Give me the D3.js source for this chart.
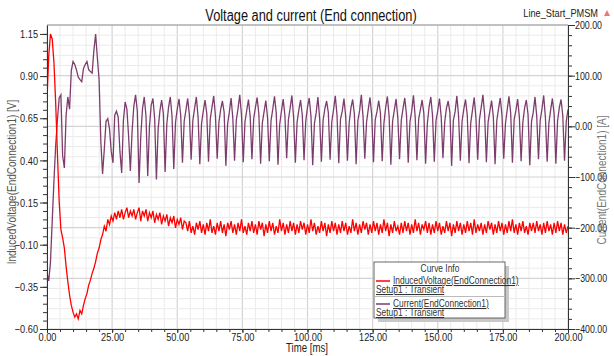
<!DOCTYPE html>
<html>
<head>
<meta charset="utf-8">
<script src="https://cdn.jsdelivr.net/npm/d3@7"></script>
<style>
  body { margin: 0; background: #fff; }
  svg { display: block; font-family: "Liberation Sans", Arial, sans-serif; }
  .axis path, .axis line { stroke: #333; }
  .axis text { fill: #222; font-size: 11.5px; }
  .legend text { fill: #333; font-size: 10.5px; }
</style>
</head>
<body>
<div id="chart"></div>
<script>
// Chart values

var chartTitle = "Voltage and current (End connection)";
var projectName = "Line_Start_PMSM";
var xTicks = [0, 25, 50, 75, 100, 125, 150, 175, 200];
var leftTicks = [-0.60, -0.35, -0.10, 0.15, 0.40, 0.65, 0.90, 1.15];
var rightTicks = [-400, -300, -200, -100, 0, 100, 200];
var seriesNames = ["InducedVoltage(EndConnection1)", "Current(EndConnection1)"];
var setupName = "Setup1 : Transient";

// one sample every 2/3 ms from 0 to 200 ms
var timeStep = 200 / 300;

var voltage = [
  0.76, 1.02, 1.15, 1.12, 0.98, 0.74, 0.44, 0.16, -0.01, -0.06,
  -0.12, -0.23, -0.32, -0.40, -0.46, -0.50, -0.53, -0.51, -0.54, -0.49,
  -0.51, -0.46, -0.42, -0.39, -0.34, -0.31, -0.27, -0.24, -0.20, -0.15,
  -0.12, -0.07, -0.04, 0.01, -0.02, 0.05, 0.02, 0.07, 0.04, 0.09,
  0.05, 0.10, 0.06, 0.11, 0.05, 0.09, 0.12, 0.06, 0.10, 0.07,
  0.11, 0.05, 0.09, 0.12, 0.04, 0.10, 0.07, 0.11, 0.04, 0.09,
  0.06, 0.10, 0.03, 0.08, 0.05, 0.09, 0.02, 0.07, 0.04, 0.08,
  0.01, 0.06, 0.03, 0.07, 0.00, 0.05, 0.02, 0.06, -0.01, 0.04,
  0.03, -0.02, 0.04, -0.03, 0.01, -0.04, 0.03, -0.01, 0.04, -0.03,
  0.02, -0.04, 0.03, -0.02, 0.05, -0.03, 0.01, -0.04, 0.03, -0.02,
  0.04, -0.03, 0.02, -0.05, 0.03, -0.01, 0.04, -0.03, 0.02, -0.04,
  0.03, -0.02, 0.05, -0.03, 0.01, -0.04, 0.03, -0.02, 0.04, -0.03,
  0.02, -0.04, 0.04, -0.01, 0.03, -0.05, 0.02, -0.03, 0.04, -0.02,
  0.03, -0.04, 0.01, -0.03, 0.05, -0.02, 0.03, -0.04, 0.02, -0.03,
  0.04, -0.02, 0.03, -0.04, 0.02, -0.03, 0.04, -0.01, 0.03, -0.04,
  0.02, -0.03, 0.05, -0.02, 0.03, -0.04, 0.01, -0.03, 0.04, -0.02,
  0.03, -0.05, 0.02, -0.03, 0.04, -0.02, 0.03, -0.04, 0.02, -0.03,
  0.04, -0.02, 0.03, -0.04, 0.01, -0.03, 0.05, -0.02, 0.03, -0.04,
  0.02, -0.03, 0.04, -0.01, 0.03, -0.04, 0.02, -0.03, 0.04, -0.02,
  0.03, -0.04, 0.02, -0.03, 0.05, -0.02, 0.03, -0.05, 0.02, -0.03,
  0.04, -0.02, 0.01, -0.04, 0.03, -0.03, 0.04, -0.02, 0.03, -0.04,
  0.02, -0.03, 0.05, -0.02, 0.03, -0.04, 0.02, -0.01, 0.04, -0.03,
  0.03, -0.04, 0.02, -0.03, 0.04, -0.02, 0.03, -0.04, 0.01, -0.03,
  0.04, -0.02, 0.03, -0.05, 0.02, -0.03, 0.04, -0.02, 0.03, -0.04,
  0.02, -0.03, 0.04, -0.02, 0.03, -0.04, 0.05, -0.03, 0.02, -0.02,
  0.03, -0.04, 0.02, -0.03, 0.04, -0.01, 0.03, -0.04, 0.02, -0.03,
  0.04, -0.02, 0.03, -0.04, 0.02, -0.03, 0.04, -0.02, 0.05, -0.03,
  0.02, -0.04, 0.03, -0.02, 0.04, -0.03, 0.01, -0.04, 0.03, -0.02,
  0.03, -0.03, 0.04, -0.02, 0.02, -0.04, 0.03, -0.03, 0.04, -0.02,
  0.02, -0.04, 0.03, -0.03, 0.04, -0.02, 0.03, -0.04, 0.02, -0.03,
  0.01
];

var current = [
  -290, -305, -268, -188, -108, -38, 12, 56, 62, -58,
  -82, 22, 58, 34, 110, 128, 122, 111, 97, 92,
  88, 114, 122, 128, 112, 108, 105, 150, 182, 135,
  92, -30, -94, -45, 10, 15, -5, -50, -72, 22,
  30, 18, -50, -92, 12, 48, 34, -20,
  -88, -10, 40, 62, 30,
  -112, -20, 35, 58, 20,
  -98, 0, 42, 55, 15,
  -105, -5, 30, 52, 25,
  -90, 5, 38, 58, 20,
  -84, 8, 34, 54, 22,
  -72, 10, 32, 55, 22, -66, 12, 36, 58, 18,
  -75, 6, 30, 52, 25, -70, 14, 38, 60, 20,
  -64, 8, 33, 50, 28, -78, 5, 28, 56, 16,
  -68, 12, 35, 62, 22, -71, 9, 31, 53, 19,
  -65, 15, 37, 57, 24, -74, 7, 29, 51, 17,
  -69, 11, 34, 59, 26, -76, 4, 30, 54, 21,
  -63, 13, 36, 61, 18, -72, 8, 32, 52, 23,
  -67, 10, 38, 56, 20, -77, 6, 27, 58, 15,
  -70, 12, 35, 50, 27, -66, 9, 33, 60, 22,
  -73, 14, 30, 55, 19, -68, 7, 36, 53, 24,
  -75, 11, 31, 62, 18, -64, 8, 34, 57, 21,
  -71, 13, 29, 51, 26, -69, 6, 37, 59, 20,
  -76, 10, 32, 54, 17, -65, 12, 35, 56, 23,
  -72, 9, 30, 61, 19, -67, 14, 33, 52, 25,
  -74, 5, 38, 58, 21, -70, 11, 31, 55, 18,
  -63, 8, 36, 50, 27, -78, 12, 29, 60, 20,
  -68, 10, 34, 53, 22, -73, 7, 32, 57, 16,
  -66, 13, 37, 62, 24, -71, 9, 30, 51, 19,
  -75, 11, 35, 56, 21, -64, 6, 33, 59, 26,
  -72, 14, 31, 54, 18, -69, 8, 36, 52, 23,
  -77, 10, 28, 58, 20, -65, 12, 34, 61, 17,
  -70, 7, 32, 55, 25, -74, 11, 37, 53, 21,
  -68, 10, 33
];

// Set up svg and plot box (plotTop, not "top": that name belongs to window)

var w = 614,
    h = 356;
var plotLeft = 47, plotRight = 568, plotTop = 25, plotBottom = 329;

var svg = d3.select("#chart")
    .append("svg")
    .attr("width", w)
    .attr("height", h);

var x = d3.scaleLinear().domain([0, 200]).range([plotLeft, plotRight]);
var yLeft = d3.scaleLinear().domain([-0.6, 1.203]).range([plotBottom, plotTop]);
var yRight = d3.scaleLinear().domain([-400, 200]).range([plotBottom, plotTop]);

// minor tick positions
var xMinor = d3.range(0, 201, 5);
var leftMinor = d3.range(-0.6, 1.2, 0.05);
var rightMinor = d3.range(-400, 201, 20);

// Grid lines (follow the right axis horizontally)

var grid = svg.append("g");
grid.selectAll(".vgrid")
    .data(xMinor)
    .enter().append("line")
    .attr("x1", function(d) {return x(d);})
    .attr("x2", function(d) {return x(d);})
    .attr("y1", plotTop).attr("y2", plotBottom)
    .attr("stroke", function(d) {return d % 25 === 0 ? "#d4d4d4" : "#ebebeb";})
    .attr("stroke-width", function(d) {return d % 25 === 0 ? 1.2 : 1;});
grid.selectAll(".hgrid")
    .data(rightMinor)
    .enter().append("line")
    .attr("x1", plotLeft).attr("x2", plotRight)
    .attr("y1", function(d) {return yRight(d);})
    .attr("y2", function(d) {return yRight(d);})
    .attr("stroke", function(d) {return d % 100 === 0 ? "#d4d4d4" : "#ebebeb";})
    .attr("stroke-width", function(d) {return d % 100 === 0 ? 1.2 : 1;});

// top border
svg.append("line")
    .attr("x1", plotLeft).attr("x2", plotRight)
    .attr("y1", plotTop).attr("y2", plotTop)
    .attr("stroke", "#999");

// Curves

svg.append("clipPath").attr("id", "clip")
    .append("rect")
    .attr("x", plotLeft).attr("y", plotTop)
    .attr("width", plotRight - plotLeft).attr("height", plotBottom - plotTop);

var currentLine = d3.line()
    .x(function(d, i) {return x(i * timeStep);})
    .y(function(d) {return yRight(d);});

var voltageLine = d3.line()
    .x(function(d, i) {return x(i * timeStep);})
    .y(function(d) {return yLeft(d);});

svg.append("path")
    .datum(current)
    .attr("clip-path", "url(#clip)")
    .attr("d", currentLine)
    .attr("fill", "none")
    .attr("stroke", "#7d3d6c")
    .attr("stroke-width", 1.3);

svg.append("path")
    .datum(voltage)
    .attr("clip-path", "url(#clip)")
    .attr("d", voltageLine)
    .attr("fill", "none")
    .attr("stroke", "#ff0000")
    .attr("stroke-width", 1.3);

// Axes

var fmt = d3.format(".2f");

svg.append("g").attr("class", "axis")
    .attr("transform", "translate(" + plotLeft + ",0)")
    .call(d3.axisLeft(yLeft).tickValues(leftMinor).tickSize(4).tickFormat(""))
    .select(".domain").remove();
svg.append("g").attr("class", "axis")
    .attr("transform", "translate(" + plotLeft + ",0)")
    .call(d3.axisLeft(yLeft).tickValues(leftTicks).tickSize(7).tickSizeOuter(0).tickPadding(2).tickFormat(fmt));

svg.append("g").attr("class", "axis")
    .attr("transform", "translate(" + plotRight + ",0)")
    .call(d3.axisRight(yRight).tickValues(rightMinor).tickSize(4).tickFormat(""))
    .select(".domain").remove();
var rightAxis = svg.append("g").attr("class", "axis")
    .attr("transform", "translate(" + plotRight + ",0)")
    .call(d3.axisRight(yRight).tickValues(rightTicks).tickSize(7).tickSizeOuter(0).tickPadding(0).tickFormat(fmt));
rightAxis.selectAll("text").style("font-size", "11px");

svg.append("g").attr("class", "axis")
    .attr("transform", "translate(0," + plotBottom + ")")
    .call(d3.axisBottom(x).tickValues(xMinor).tickSize(3).tickFormat(""))
    .select(".domain").remove();
svg.append("g").attr("class", "axis")
    .attr("transform", "translate(0," + plotBottom + ")")
    .call(d3.axisBottom(x).tickValues(xTicks).tickSize(4).tickSizeOuter(0).tickPadding(0).tickFormat(fmt));

// Titles and axis labels

svg.append("text")
    .attr("x", 311).attr("y", 21)
    .attr("text-anchor", "middle")
    .attr("font-size", "16px")
    .attr("fill", "#111")
    .text(chartTitle);

svg.append("text")
    .attr("x", 598).attr("y", 17)
    .attr("text-anchor", "end")
    .attr("font-size", "11.5px")
    .attr("fill", "#222")
    .text(projectName);

svg.append("path")
    .attr("d", "M607,10 L610,16 L604,16 Z")
    .attr("fill", "#e87878");

svg.append("text")
    .attr("transform", "translate(16,182) rotate(-90)")
    .attr("text-anchor", "middle")
    .attr("font-size", "12.5px")
    .attr("fill", "#555")
    .text(seriesNames[0] + " [V]");

svg.append("text")
    .attr("transform", "translate(606,180) rotate(-90)")
    .attr("text-anchor", "middle")
    .attr("font-size", "12.5px")
    .attr("fill", "#777")
    .text(seriesNames[1] + " [A]");

svg.append("text")
    .attr("x", 307).attr("y", 352)
    .attr("text-anchor", "middle")
    .attr("font-size", "12px")
    .attr("fill", "#222")
    .text("Time [ms]");

// Legend box

var legend = svg.append("g").attr("class", "legend");
legend.append("rect")
    .attr("x", 378).attr("y", 266)
    .attr("width", 131).attr("height", 56)
    .attr("fill", "#c8c8c8");
legend.append("rect")
    .attr("x", 374).attr("y", 262)
    .attr("width", 131).attr("height", 56)
    .attr("fill", "#fff")
    .attr("stroke", "#444")
    .attr("stroke-width", 0.8);
legend.append("text")
    .attr("x", 440).attr("y", 272)
    .attr("text-anchor", "middle")
    .text("Curve Info");
legend.append("line")
    .attr("x1", 374).attr("x2", 505)
    .attr("y1", 296.5).attr("y2", 296.5)
    .attr("stroke", "#bbb");

var legendColors = ["#ff0000", "#7d3d6c"];
var legendRows = [281, 304];

legendRows.forEach(function(ly, i) {
    legend.append("line")
        .attr("x1", 376).attr("x2", 390)
        .attr("y1", ly).attr("y2", ly)
        .attr("stroke", legendColors[i])
        .attr("stroke-width", 1.5);
    legend.append("text")
        .attr("x", 393).attr("y", ly + 3)
        .attr("text-decoration", "underline")
        .text(seriesNames[i]);
    legend.append("text")
        .attr("x", 376).attr("y", ly + 12)
        .attr("text-decoration", "underline")
        .text(setupName);
});

// Squeeze every text to look like the narrow font of the original

svg.selectAll("text").each(function() {
    var len = this.getComputedTextLength();
    if (len > 0) {
        d3.select(this)
            .attr("textLength", len * 0.8)
            .attr("lengthAdjust", "spacingAndGlyphs");
    }
});
</script>
</body>
</html>
